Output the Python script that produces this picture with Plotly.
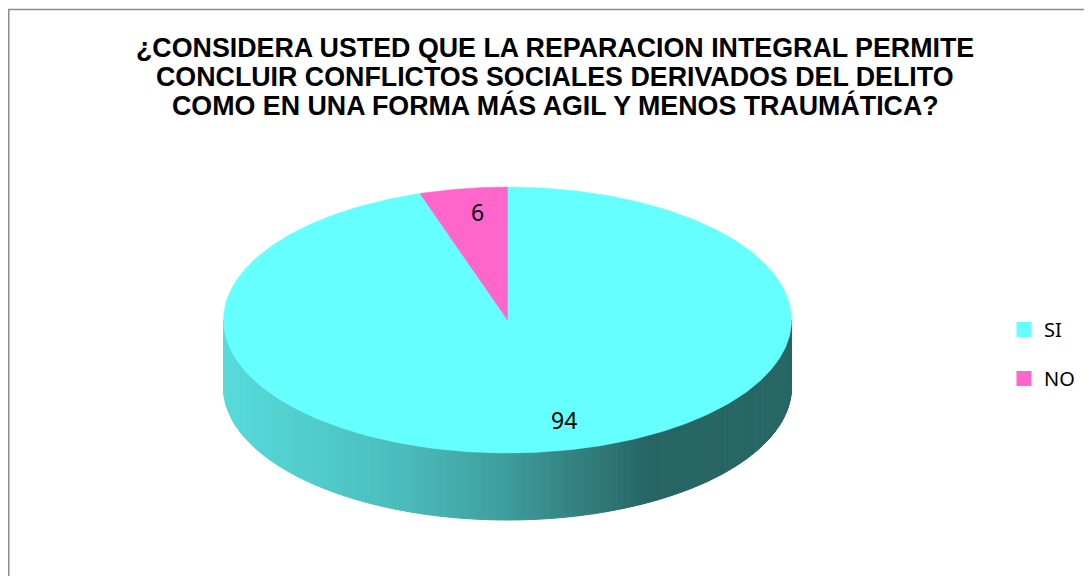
import numpy as np
import plotly.graph_objects as go

# ---------------- data ----------------
categories = ["SI", "NO"]
values = [94, 6]
slice_colors = ["#66FFFF", "#FF66CC"]
title_lines = [
    "¿CONSIDERA USTED QUE LA REPARACION INTEGRAL PERMITE",
    "CONCLUIR CONFLICTOS SOCIALES DERIVADOS DEL DELITO",
    "COMO EN UNA FORMA MÁS AGIL Y MENOS TRAUMÁTICA?",
]

# ---------------- style / geometry ----------------
W, H = 1092, 576
OFF = 8            # page body margin; axes are set so data units = page pixels
CX, CY, RX, RY, DEPTH = 507.5, 320.0, 284.0, 133.0, 67.0
K = 0.186          # mild perspective of the tilted disc
LABEL_R = 0.8
LABEL_DX = 5.5
shade_u = [0.0, 0.31, 0.49, 0.63, 0.75, 1.0]
shade_f = [0.86, 0.74, 0.62, 0.50, 0.395, 0.40]
title_y = [47.8, 76.6, 105.4]


def hex_rgb(h):
    h = h.lstrip("#")
    return [int(h[i:i + 2], 16) for i in (0, 2, 4)]


def unit_point(t_deg):
    t = np.radians(t_deg)
    c, s = np.cos(t), np.sin(t)
    d = 1 + K * s
    return c * np.sqrt(1 - K * K) / d, (s + K) / d


def to_phi(t_deg):
    x, y = unit_point(t_deg)
    return float(np.degrees(np.arctan2(y, x)))


def ell(phi_deg, dy=0.0):
    p = np.radians(phi_deg)
    return CX + RX * np.cos(p), CY - RY * np.sin(p) + dy


total = float(sum(values))
cum = np.concatenate([[0.0], np.cumsum(values)])
t_bounds = [90.0 - 360.0 * c / total for c in cum]       # clockwise from 12 o'clock
phis = [to_phi(t) for t in t_bounds]
for i in range(1, len(phis)):
    while phis[i] >= phis[i - 1]:
        phis[i] -= 360.0
phis[-1] = phis[0] - 360.0

fig = go.Figure()


def slice_at(phi):
    for i in range(len(values)):
        hi, lo = phis[i], phis[i + 1]
        for cand in (phi, phi - 360, phi + 360, phi - 720):
            if lo <= cand <= hi:
                return i
    return 0


# ---------- side (front wall) with horizontal gradient ----------
N = 240
edges = np.linspace(180.0, 360.0, N + 1)
for j in range(N):
    a, b = edges[j], edges[j + 1]
    xa, ya = ell(a)
    xb, yb = ell(b)
    xm = 0.5 * (xa + xb)
    u = (xm - (CX - RX)) / (2 * RX)
    f = np.interp(u, shade_u, shade_f)
    idx = slice_at(0.5 * (a + b))
    r, g, bl = [int(round(c * f)) for c in hex_rgb(slice_colors[idx])]
    col = f"rgb({r},{g},{bl})"
    fig.add_trace(go.Scatter(
        x=[xa, xb, xb, xa, xa], y=[ya, yb, yb + DEPTH, ya + DEPTH, ya],
        mode="lines", fill="toself", fillcolor=col,
        line=dict(color=col, width=1), hoverinfo="skip", showlegend=False))

# ---------- top face sectors ----------
for i, cat in enumerate(categories):
    ph = np.linspace(phis[i], phis[i + 1], 400)
    xs, ys = ell(ph)
    fig.add_trace(go.Scatter(
        x=np.concatenate([[CX], xs, [CX]]), y=np.concatenate([[CY], ys, [CY]]),
        mode="lines", fill="toself", fillcolor=slice_colors[i],
        line=dict(color=slice_colors[i], width=0.5),
        name=cat, hoverinfo="name", showlegend=False))

# ---------- data labels ----------
lx, ly = [], []
for i in range(len(values)):
    tm = 0.5 * (t_bounds[i] + t_bounds[i + 1])
    ux, uy = unit_point(tm)
    lx.append(CX + RX * ux * LABEL_R + LABEL_DX)
    ly.append(CY - RY * uy * LABEL_R)
fig.add_trace(go.Scatter(
    x=lx, y=ly, mode="text", text=[str(v) for v in values],
    textposition="middle center",
    textfont=dict(family="Noto Sans", size=23, color="#000000"),
    hoverinfo="skip", showlegend=False))

# ---------- legend entries ----------
for i, cat in enumerate(categories):
    fig.add_trace(go.Scatter(
        x=[None], y=[None], mode="markers", name=cat, legendgroup=cat,
        marker=dict(symbol="square", size=15, color=slice_colors[i])))

for line, yy in zip(title_lines, title_y):
    fig.add_annotation(
        x=555, y=yy, xref="x", yref="y", showarrow=False,
        text="<b>" + line + "</b>",
        font=dict(family="Liberation Sans, Arial", size=26.8, color="#000000"),
        align="center", xanchor="center", yanchor="middle")

fig.add_shape(type="rect", xref="x", yref="y", x0=OFF + 0.75, y0=9.5, x1=W + 60, y1=H + 60,
              line=dict(color="#8c8c8c", width=1.5), fillcolor="rgba(0,0,0,0)", layer="below")

fig.update_layout(
    width=W, height=H, autosize=False,
    margin=dict(l=0, r=0, t=0, b=0, pad=0),
    paper_bgcolor="white", plot_bgcolor="white",
    xaxis=dict(range=[OFF, OFF + W], visible=False, fixedrange=True),
    yaxis=dict(range=[OFF + H, OFF], visible=False, fixedrange=True),
    showlegend=True,
    legend=dict(x=(1004 - OFF) / W, y=1 - (310 - OFF) / H, xanchor="left", yanchor="top",
                font=dict(family="Noto Sans", size=20, color="#000000"),
                tracegroupgap=20, bgcolor="rgba(0,0,0,0)", itemsizing="trace"),
)

fig.write_html("out.html")
